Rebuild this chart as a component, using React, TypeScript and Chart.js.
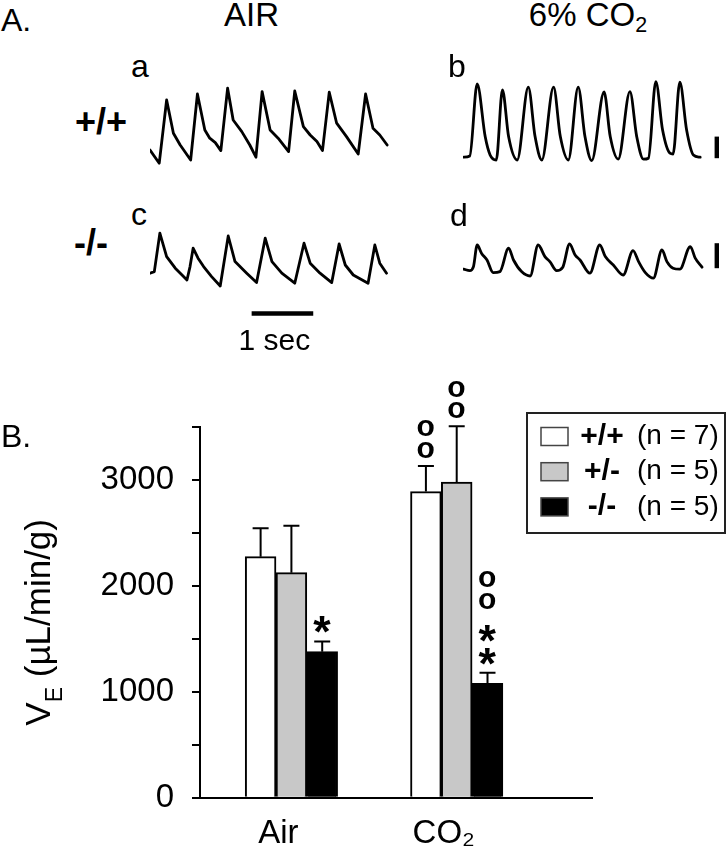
import React, { useEffect, useRef } from 'react';
import { Chart, registerables } from 'chart.js';

Chart.register(...registerables);

const FONT = '"Liberation Sans", Arial, Helvetica, sans-serif';

// ---------------- Panel B data ----------------
const CATEGORIES = ['Air', 'CO₂'];
const CATEGORY_X = [1, 2];
const SERIES_LABELS = ['+/+', '+/-', '-/-'];
const SERIES_N = ['(n = 7)', '(n = 5)', '(n = 5)'];
const SERIES_COLORS = ['#ffffff', '#c8c8c8', '#000000'];
const WT_MEAN = [2276, 2890];
const WT_SEM = [268, 242];
const HET_MEAN = [2125, 2981];
const HET_SEM = [443, 526];
const KO_MEAN = [1379, 1080];
const KO_SEM = [96, 100];
const WT_MARKS = ['', 'oo'];
const HET_MARKS = ['', 'oo'];
const KO_MARKS = ['*', 'oo**'];
const Y_MAX = 3500;
const Y_TICK_STEP = 500;
const Y_LABEL_STEP = 1000;
const Y_TITLE = ['V', 'E', ' (µL/min/g)'];

// ---------------- Panel A data (time in s, amplitude in arbitrary units) ----------------
const A_T = [0, 0.15, 0.27, 0.38, 0.49, 0.66, 0.77, 0.89, 0.97, 1.06, 1.15, 1.26, 1.35, 1.49, 1.62, 1.72, 1.82, 1.95, 2.08, 2.25, 2.35, 2.49, 2.6, 2.71, 2.8, 2.91, 3.03, 3.19, 3.38, 3.5, 3.62, 3.73, 3.85];
const A_V = [1.0, 0.34, 3.5, 1.84, 1.25, 0.5, 3.8, 2.0, 1.59, 1.37, 0.97, 4.09, 2.5, 1.92, 1.25, 0.64, 3.92, 2.0, 1.59, 0.92, 3.95, 2.17, 1.75, 1.42, 0.97, 3.89, 2.34, 1.67, 0.8, 3.8, 2.09, 1.75, 1.25];

const B_T = [0.01, 0.11, 0.23, 0.36, 0.44, 0.54, 0.64, 0.74, 0.88, 1.06, 1.17, 1.28, 1.47, 1.58, 1.71, 1.87, 1.98, 2.09, 2.29, 2.39, 2.52, 2.71, 2.82, 2.93, 3.01, 3.13, 3.24, 3.36, 3.41, 3.52, 3.63, 3.74, 3.85];
const B_V = [0.64, 0.7, 4.3, 1.67, 0.75, 0.5, 4.0, 1.67, 0.5, 4.14, 1.67, 0.5, 4.14, 1.67, 0.5, 4.14, 1.67, 0.47, 3.9, 1.67, 0.54, 3.92, 1.67, 0.54, 0.59, 4.42, 2.0, 0.84, 0.8, 4.39, 2.0, 0.75, 0.64];

const C_T = [0, 0.07, 0.16, 0.27, 0.41, 0.52, 0.6, 0.65, 0.7, 0.78, 0.87, 1.0, 1.14, 1.27, 1.38, 1.57, 1.73, 1.87, 1.98, 2.14, 2.35, 2.5, 2.6, 2.76, 2.95, 3.07, 3.17, 3.3, 3.54, 3.65, 3.73, 3.84];
const C_V = [2.34, 2.42, 4.34, 3.17, 2.59, 2.25, 2.0, 2.67, 3.59, 3.09, 2.67, 2.17, 1.7, 4.2, 2.92, 2.34, 1.87, 4.09, 2.92, 2.34, 1.84, 3.84, 2.84, 2.34, 1.87, 3.8, 2.75, 2.25, 1.84, 3.75, 2.84, 2.34];

const D_T = [0.01, 0.11, 0.17, 0.23, 0.3, 0.39, 0.49, 0.6, 0.74, 0.82, 0.95, 1.09, 1.22, 1.33, 1.41, 1.52, 1.62, 1.73, 1.82, 1.9, 2.06, 2.22, 2.31, 2.44, 2.6, 2.76, 2.85, 2.96, 3.09, 3.23, 3.31, 3.41, 3.52, 3.69, 3.77, 3.88];
const D_V = [1.29, 1.22, 1.42, 2.5, 2.09, 1.75, 1.12, 1.17, 2.34, 1.75, 1.17, 0.95, 2.5, 1.92, 1.67, 1.22, 1.39, 2.55, 2.0, 1.75, 1.09, 2.5, 1.92, 1.5, 1.0, 2.22, 1.67, 1.12, 0.84, 2.25, 1.67, 1.34, 1.29, 2.42, 1.84, 1.39];

// calibration bars
const TIME_BAR_T = [1.65, 2.65];
const TIME_BAR_V = 0.33;
const AMP_BAR_T = 4.12;
const AMP_BAR_B_V = [0.59, 1.67];
const AMP_BAR_D_V = [1.34, 2.59];

// layout constants
const PX_PER_SEC = 61.6;
const PX_PER_UNIT = 20;
const BAR_TOP = 350;

const series = (t: number[], v: number[]) => t.map((x, i) => ({ x, y: v[i] }));

function TraceChart(props: { left: number; top: number; width: number; height: number; datasets: any[] }) {
  const { left, top, width, height, datasets } = props;
  const ref = useRef<HTMLCanvasElement>(null);
  useEffect(() => {
    const chart = new Chart(ref.current as HTMLCanvasElement, {
      type: 'line',
      data: { datasets },
      options: {
        animation: false,
        responsive: false,
        events: [],
        layout: { padding: 0 },
        plugins: { legend: { display: false }, tooltip: { enabled: false } },
        scales: {
          x: { type: 'linear', display: false, min: 0, max: width / PX_PER_SEC },
          y: { type: 'linear', display: false, min: 0, max: height / PX_PER_UNIT },
        },
        elements: {
          point: { radius: 0 },
          line: { borderColor: '#000', borderWidth: 2.8, tension: 0, fill: false, borderJoinStyle: 'round', borderCapStyle: 'round' },
        },
      } as any,
    });
    return () => chart.destroy();
  }, []);
  return <canvas ref={ref} width={width} height={height} style={{ position: 'absolute', left, top, width, height }} />;
}

function Label(props: { x: number; y: number; size: number; bold?: boolean; center?: boolean; children: any }) {
  const { x, y, size, bold, center, children } = props;
  return (
    <div
      style={{
        position: 'absolute',
        left: x,
        top: y - 0.8465 * size,
        fontFamily: FONT,
        fontSize: size,
        lineHeight: `${size}px`,
        fontWeight: bold ? 700 : 400,
        whiteSpace: 'nowrap',
        color: '#000',
        transform: center ? 'translateX(-50%)' : undefined,
      }}
    >
      {children}
    </div>
  );
}

// draw a significance glyph so that its ink is a given height and its ink bottom sits at inkBottom
function drawGlyph(ctx: CanvasRenderingContext2D, ch: string, x: number, inkBottom: number) {
  const inkHeight = ch === '*' ? 17 : 16.5;
  ctx.font = `bold 100px ${FONT}`;
  const m0 = ctx.measureText(ch);
  const ratio = (m0.actualBoundingBoxAscent + m0.actualBoundingBoxDescent) / 100;
  const size = inkHeight / ratio;
  ctx.font = `bold ${size}px ${FONT}`;
  ctx.textAlign = 'left';
  ctx.textBaseline = 'alphabetic';
  const m = ctx.measureText(ch);
  const inkW = m.actualBoundingBoxLeft + m.actualBoundingBoxRight;
  const base = inkBottom - m.actualBoundingBoxDescent;
  ctx.fillText(ch, x - inkW / 2 + m.actualBoundingBoxLeft, base);
  return base - m.actualBoundingBoxAscent;
}

const barPlugin = {
  id: 'barExtras',
  afterDatasetsDraw(chart: any) {
    const { ctx } = chart;
    const yScale = chart.scales.y;
    ctx.save();
    ctx.fillStyle = '#000';
    chart.data.datasets.forEach((ds: any, di: number) => {
      const meta = chart.getDatasetMeta(di);
      meta.data.forEach((bar: any, i: number) => {
        const x = bar.x;
        const yTop = yScale.getPixelForValue(ds.data[i].y + ds.sem[i]);
        ctx.strokeStyle = '#000';
        ctx.lineWidth = 2;
        ctx.beginPath();
        ctx.moveTo(x, bar.y);
        ctx.lineTo(x, yTop);
        ctx.moveTo(x - 8, yTop);
        ctx.lineTo(x + 8, yTop);
        ctx.stroke();
        const marks: string = ds.marks[i];
        let yb = yTop - 8;
        let prev = '';
        for (let k = marks.length - 1; k >= 0; k--) {
          const ch = marks[k];
          if (prev && prev !== ch) yb -= 11;
          const top = drawGlyph(ctx, ch, x, yb);
          yb = top - 5.5;
          prev = ch;
        }
      });
    });
    ctx.restore();
  },
  afterDraw(chart: any) {
    const { ctx, chartArea } = chart;
    ctx.save();
    // y-axis title, rotated, with subscript
    const cy = (chartArea.top + chartArea.bottom) / 2 + 10;
    ctx.translate(50, cy);
    ctx.rotate(-Math.PI / 2);
    ctx.fillStyle = '#000';
    ctx.textAlign = 'left';
    ctx.textBaseline = 'alphabetic';
    const main = `35px ${FONT}`;
    const sub = `23px ${FONT}`;
    ctx.font = main;
    const w0 = ctx.measureText(Y_TITLE[0]).width;
    const w2 = ctx.measureText(Y_TITLE[2]).width;
    ctx.font = sub;
    const w1 = ctx.measureText(Y_TITLE[1]).width;
    let x = -(w0 + w1 + w2) / 2;
    ctx.font = main;
    ctx.fillText(Y_TITLE[0], x, 0);
    x += w0;
    ctx.font = sub;
    ctx.fillText(Y_TITLE[1], x, 12);
    x += w1;
    ctx.font = main;
    ctx.fillText(Y_TITLE[2], x, 0);
    ctx.restore();

    // legend
    const ly = 413 - BAR_TOP;
    ctx.save();
    ctx.strokeStyle = '#222';
    ctx.lineWidth = 2;
    ctx.strokeRect(527, ly, 198, 120);
    chart.data.datasets.forEach((ds: any, i: number) => {
      const rowY = ly + 23.5 + i * 35.2;
      ctx.fillStyle = ds.backgroundColor;
      ctx.fillRect(541, rowY - 9, 27, 18);
      ctx.strokeStyle = '#444';
      ctx.lineWidth = 1.5;
      ctx.strokeRect(541, rowY - 9, 27, 18);
      ctx.fillStyle = '#000';
      ctx.textBaseline = 'middle';
      ctx.textAlign = 'center';
      ctx.font = `bold 30px ${FONT}`;
      ctx.fillText(ds.label, 602, rowY);
      ctx.textAlign = 'left';
      ctx.font = `28px ${FONT}`;
      ctx.fillText(SERIES_N[i], 637, rowY);
    });
    ctx.restore();
  },
};

function BarChart() {
  const ref = useRef<HTMLCanvasElement>(null);
  useEffect(() => {
    const means = [WT_MEAN, HET_MEAN, KO_MEAN];
    const sems = [WT_SEM, HET_SEM, KO_SEM];
    const marks = [WT_MARKS, HET_MARKS, KO_MARKS];
    const chart = new Chart(ref.current as HTMLCanvasElement, {
      type: 'bar',
      data: {
        datasets: SERIES_LABELS.map((label, s) => ({
          label,
          data: CATEGORY_X.map((x, i) => ({ x, y: means[s][i] })),
          sem: sems[s],
          marks: marks[s],
          backgroundColor: SERIES_COLORS[s],
          borderColor: '#000',
          borderWidth: 2,
          borderSkipped: 'bottom',
          barThickness: 30.8,
        })),
      } as any,
      options: {
        animation: false,
        responsive: false,
        events: [],
        layout: { padding: { top: 427 - BAR_TOP, right: 134.5, bottom: 0, left: 0 } },
        plugins: { legend: { display: false }, tooltip: { enabled: false } },
        scales: {
          x: {
            type: 'linear',
            min: 0.447,
            max: 2.8215,
            offset: false,
            grid: { display: false, drawTicks: false, offset: false },
            border: { display: true, color: '#000', width: 2 },
            afterBuildTicks: (s: any) => {
              s.ticks = CATEGORY_X.map((v) => ({ value: v }));
            },
            afterFit: (s: any) => {
              s.height = 55.3;
            },
            ticks: {
              autoSkip: false,
              maxRotation: 0,
              padding: 16,
              labelOffset: -13,
              color: '#000',
              font: { family: FONT, size: 33 },
              callback: (v: any) => {
                const i = CATEGORY_X.indexOf(Math.round(Number(v)));
                return i >= 0 ? CATEGORIES[i] : '';
              },
            },
          },
          y: {
            type: 'linear',
            min: 0,
            max: Y_MAX,
            grid: { display: true, drawOnChartArea: false, drawTicks: true, tickLength: 8, color: '#000', lineWidth: 2 },
            border: { display: true, color: '#000', width: 2 },
            afterFit: (s: any) => {
              s.width = 200;
            },
            ticks: {
              stepSize: Y_TICK_STEP,
              padding: 18,
              color: '#000',
              font: { family: FONT, size: 33 },
              callback: (v: any) => (Number(v) % Y_LABEL_STEP === 0 ? String(v) : ''),
            },
          },
        },
      } as any,
      plugins: [barPlugin],
    });
    return () => chart.destroy();
  }, []);
  return (
    <canvas
      ref={ref}
      width={727}
      height={853 - BAR_TOP}
      style={{ position: 'absolute', left: 0, top: BAR_TOP, width: 727, height: 853 - BAR_TOP }}
    />
  );
}

export default function App() {
  const traceA = [{ data: series(A_T, A_V) }];
  const traceB = [
    { data: series(B_T, B_V), cubicInterpolationMode: 'monotone' },
    { data: series([AMP_BAR_T, AMP_BAR_T], AMP_BAR_B_V), borderWidth: 4.4, borderCapStyle: 'butt' },
  ];
  const traceC = [
    { data: series(C_T, C_V) },
    { data: series(TIME_BAR_T, [TIME_BAR_V, TIME_BAR_V]), borderWidth: 4.5, borderCapStyle: 'butt' },
  ];
  const traceD = [
    { data: series(D_T, D_V), cubicInterpolationMode: 'monotone' },
    { data: series([AMP_BAR_T, AMP_BAR_T], AMP_BAR_D_V), borderWidth: 4.4, borderCapStyle: 'butt' },
  ];
  return (
    <div style={{ position: 'absolute', left: 0, top: 0, width: 727, height: 853, background: '#fff', overflow: 'hidden' }}>
      <TraceChart left={150} top={80} width={240} height={90} datasets={traceA} />
      <TraceChart left={463} top={80} width={262} height={90} datasets={traceB} />
      <TraceChart left={150} top={225} width={240} height={95} datasets={traceC} />
      <TraceChart left={463} top={225} width={262} height={70} datasets={traceD} />
      <BarChart />
      <Label x={1} y={31} size={32}>A.</Label>
      <Label x={251.5} y={25.5} size={33} center>AIR</Label>
      <Label x={588} y={25.5} size={33} center>
        6% CO<span style={{ fontSize: '0.65em', position: 'relative', top: '0.3em' }}>2</span>
      </Label>
      <Label x={131} y={76.7} size={32}>a</Label>
      <Label x={448} y={76.7} size={32}>b</Label>
      <Label x={75} y={134} size={36} bold>+/+</Label>
      <Label x={131} y={225} size={32}>c</Label>
      <Label x={450} y={226} size={32}>d</Label>
      <Label x={74} y={255} size={36} bold>-/-</Label>
      <Label x={238.5} y={350} size={30}>1 sec</Label>
      <Label x={1} y={446.7} size={32}>B.</Label>
    </div>
  );
}
